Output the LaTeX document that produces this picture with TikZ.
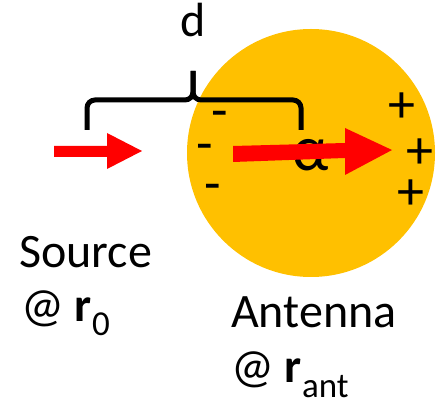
\documentclass[tikz,border=0pt]{standalone}
\usepackage{fontspec}
\setmainfont{Carlito}
\usepackage{xcolor}
\usetikzlibrary{arrows.meta, positioning}
\definecolor{gold}{HTML}{FFC000}
\definecolor{arrowred}{HTML}{FF0000}
\newcommand{\labelsize}{\fontsize{48}{58}\selectfont}
\newcommand{\subtext}[1]{\raisebox{-14pt}[0pt][0pt]{\fontsize{35}{35}\selectfont #1}}

\begin{document}
\begin{tikzpicture}[
        x=1pt, y=-1pt,
        disk/.style={circle, fill=gold, inner sep=0pt, minimum size=248pt},
        label/.style={inner sep=0pt, anchor=base west, font=\labelsize},
        charge/.style={inner sep=0pt, font=\fontsize{54}{54}\selectfont},
        brace/.style={line width=5pt, rounded corners=8pt},
        ray/.style={fill=arrowred}
    ]
        \useasboundingbox (0,0) rectangle (442,403);

        \node[disk] (disk) at (311,153) {};
        \node[inner sep=0pt, anchor=base, font=\fontsize{64}{64}\selectfont] (alpha) at (311,171) {α};

        \node[charge] (m1) at (220,120) {-};
        \node[charge] (m2) at (205,153) {-};
        \node[charge] (m3) at (213,193) {-};
        \node[charge] (p1) at (402,108) {+};
        \node[charge] (p2) at (420,154) {+};
        \node[charge] (p3) at (411,195) {+};

        \coordinate (bl) at (87,130);
        \coordinate (br) at (301,130);
        \coordinate (btip) at (193,71);
        \draw[brace] (bl) -- (87,100) -- (193,100) -- (btip);
        \draw[brace] (br) -- (301,100) -- (193,100) -- (btip);
        \node[inner sep=0pt, anchor=base, font=\labelsize] (d) at (193,37) {d};

        \fill[ray] (54,146) -- (107,146) -- (107,133) -- (142,151) -- (107,169) -- (107,157) -- (54,157) -- cycle;
        \fill[ray] (233,146) -- (345,143) -- (345,128) -- (392,150) -- (345,175) -- (345,158) -- (233,162) -- cycle;

        \node[label] (src) at (19,268) {Source};
        \node[label] (srcpos) at (21,322) {@ \textbf{r}\subtext{0}};
        \node[label] (ant) at (231,328) {Antenna};
        \node[label] (antpos) at (231,383) {@ \textbf{r}\subtext{ant}};
    \end{tikzpicture}
\end{document}
